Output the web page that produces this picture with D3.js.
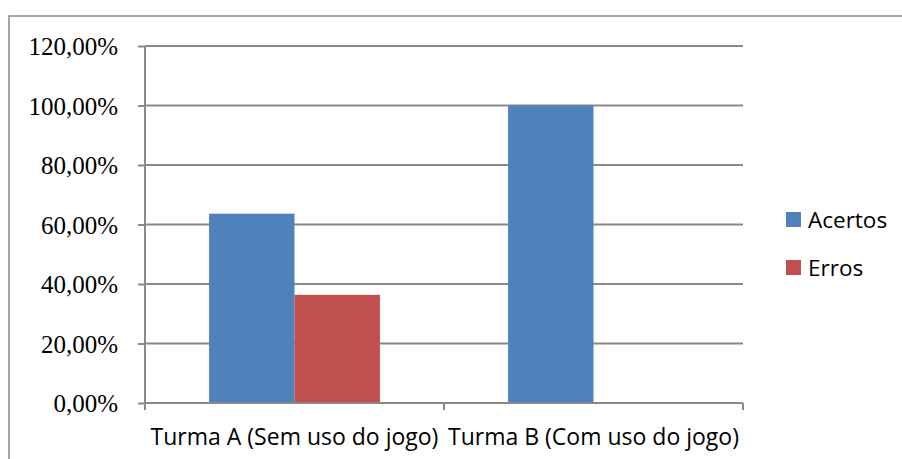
<!DOCTYPE html>
<html>
<head>
<meta charset="utf-8">
<script src="https://cdn.jsdelivr.net/npm/d3@7"></script>
<style>
  html, body { margin: 0; padding: 0; background: #fff; }
  svg { display: block; }
  .ylab { font-family: "Liberation Serif", "Times New Roman", serif; }
  .slab { font-family: "Open Sans", Lato, sans-serif; }
</style>
</head>
<body>
<svg id="chart" width="902" height="459"></svg>
<script>
// Categories, series and axis ticks
const categories = ["Turma A (Sem uso do jogo)", "Turma B (Com uso do jogo)"];
const seriesNames = ["Acertos", "Erros"];
const acertos = [0.6364, 1.0];
const erros = [0.3636, 0.0];
const yTicks = [0, 0.2, 0.4, 0.6, 0.8, 1.0, 1.2];
const seriesColors = ["#4F81BD", "#C0504D"];

const rows = categories.map((c, i) => ({ cat: c, values: [acertos[i], erros[i]] }));

const svg = d3.select("#chart");
const gridColor = "#898989";

// Outer frame (open to the right and bottom)
svg.append("rect")
  .attr("x", 9).attr("y", 16)
  .attr("width", 1000).attr("height", 600)
  .attr("fill", "none").attr("stroke", gridColor).attr("stroke-width", 1.5);

const plotLeft = 145, plotRight = 743, plotTop = 46, plotBottom = 403;

const x0 = d3.scaleBand().domain(categories).range([plotLeft, plotRight]).paddingInner(0).paddingOuter(0);
const x1 = d3.scaleBand().domain(seriesNames).range([0, x0.bandwidth()]).paddingInner(0).paddingOuter(0.75);
const y = d3.scaleLinear().domain([0, 1.2]).range([plotBottom, plotTop]);

const locale = d3.formatLocale({ decimal: ",", thousands: ".", grouping: [3], currency: ["R$", ""] });
const fmt = locale.format(".2%");

// Horizontal gridlines
svg.append("g").selectAll("line").data(yTicks.filter(t => t > 0)).join("line")
  .attr("x1", plotLeft).attr("x2", plotRight)
  .attr("y1", d => y(d)).attr("y2", d => y(d))
  .attr("stroke", gridColor).attr("stroke-width", 2);

// Bars
const groups = svg.append("g").selectAll("g").data(rows).join("g")
  .attr("transform", d => `translate(${x0(d.cat)},0)`);
groups.selectAll("rect").data(d => d.values.map((v, i) => ({ key: seriesNames[i], v, i })))
  .join("rect")
  .attr("x", d => x1(d.key))
  .attr("width", x1.bandwidth())
  .attr("y", d => y(d.v))
  .attr("height", d => y(0) - y(d.v))
  .attr("fill", d => seriesColors[d.i]);

// Y axis
const yAxis = svg.append("g").attr("transform", `translate(${plotLeft},0)`)
  .call(d3.axisLeft(y).tickValues(yTicks).tickFormat(fmt).tickSize(7).tickPadding(20));
yAxis.attr("font-family", null).attr("font-size", null);
yAxis.select(".domain").attr("stroke", gridColor).attr("stroke-width", 2).attr("d", `M0,${plotTop}V${plotBottom}`);
yAxis.selectAll(".tick line").attr("stroke", gridColor).attr("stroke-width", 2);
yAxis.selectAll(".tick text")
  .attr("class", "ylab")
  .style("font-size", "25px").attr("fill", "#000").attr("dy", "0.35em");

// X axis line with ticks at category boundaries
const xg = svg.append("g");
xg.append("line").attr("x1", plotLeft).attr("x2", plotRight).attr("y1", plotBottom).attr("y2", plotBottom)
  .attr("stroke", gridColor).attr("stroke-width", 2);
const bounds = categories.map(c => x0(c)).concat([x0(categories[categories.length - 1]) + x0.bandwidth()]);
xg.selectAll("line.tk").data(bounds).join("line").attr("class", "tk")
  .attr("x1", d => d).attr("x2", d => d).attr("y1", plotBottom).attr("y2", plotBottom + 7)
  .attr("stroke", gridColor).attr("stroke-width", 2);
xg.selectAll("text").data(categories).join("text")
  .attr("class", "slab")
  .attr("x", d => x0(d) + x0.bandwidth() / 2)
  .attr("y", 445)
  .attr("text-anchor", "middle")
  .style("font-size", "23px").attr("fill", "#000")
  .text(d => d);

// Legend
const legend = svg.append("g").selectAll("g").data(seriesNames).join("g")
  .attr("transform", (d, i) => `translate(786,${212 + i * 48})`);
legend.append("rect").attr("width", 15).attr("height", 15).attr("fill", (d, i) => seriesColors[i]);
legend.append("text").attr("class", "slab").attr("x", 22).attr("y", 7.5).attr("dy", "0.36em")
  .style("font-size", "22.5px").attr("fill", "#000")
  .text(d => d);
</script>
</body>
</html>
